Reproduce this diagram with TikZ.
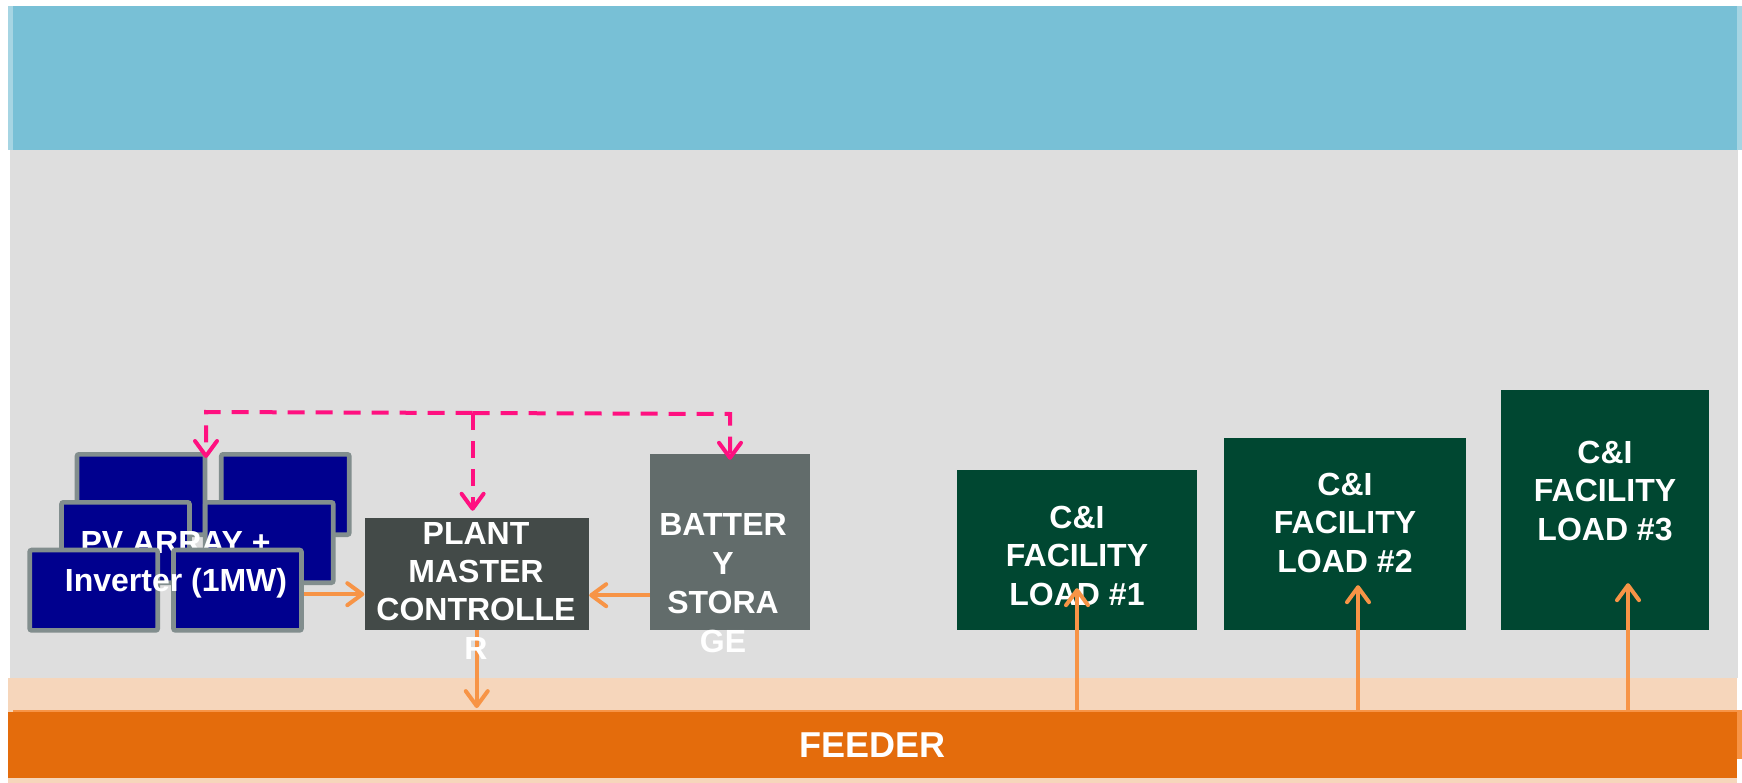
\documentclass[tikz,border=0pt]{standalone}
\usepackage{fontspec}
\setmainfont{Liberation Sans}
\usetikzlibrary{arrows.meta}
\definecolor{bandblue}{RGB}{120,192,214}
\definecolor{bandlight}{RGB}{166,213,227}
\definecolor{bggray}{RGB}{222,222,222}
\definecolor{peach}{RGB}{246,214,187}
\definecolor{flowor}{RGB}{247,148,70}
\definecolor{feedor}{RGB}{228,108,12}
\definecolor{pvnavy}{RGB}{0,0,142}
\definecolor{pvrim}{RGB}{130,142,142}
\definecolor{ctrlgray}{RGB}{67,74,72}
\definecolor{batgray}{RGB}{98,108,107}
\definecolor{loadgreen}{RGB}{0,71,49}
\definecolor{commpink}{RGB}{255,16,128}
\tikzset{
  panel/.style={draw=pvrim, line width=4.7pt, fill=pvnavy, rounded corners=2pt,
    minimum width=128pt, minimum height=80.3pt, inner sep=0},
  load/.style={fill=loadgreen, inner sep=0},
  lbl/.style={text=white, font=\fontsize{32}{38.3}\selectfont\bfseries, align=center, inner sep=0}
}
\begin{document}
\begin{tikzpicture}[x=1pt, y=-1pt, >={Straight Barb[length=15pt,width=22pt,round]},
  flow/.style={draw=flowor, line width=4pt},
  comm/.style={draw=commpink, line width=4pt, dash pattern=on 17pt off 11pt}]
\useasboundingbox (0,0) rectangle (1742,783);
\fill[white] (0,0) rectangle (1742,783);
\fill[bandlight] (8,6) rectangle (1742,150);
\fill[bandblue] (13,6) rectangle (1737,150);
\fill[bggray] (10,150) rectangle (1738,678);
\fill[peach] (8,678) rectangle (1737,783);
\fill[flowor] (13,710) rectangle (1742,759);
\node[fill=feedor, minimum width=1729pt, minimum height=65.4pt, inner sep=0, text=white,
  font=\fontsize{36}{40}\selectfont\bfseries] (feeder) at (872.5,745) {FEEDER};

\node[panel] (pv1) at (141,494.5) {};
\node[panel] (pv2) at (285.3,494.5) {};
\node[panel] (pv3) at (125.5,542.5) {};
\node[panel] (pv4) at (269.3,542.5) {};
\node[lbl, anchor=base] (pvtop) at (175.5,553.6) {PV ARRAY +};
\node[panel] (pv5) at (93.7,590.2) {};
\node[panel] (pv6) at (237.5,590.2) {};
\node[lbl, anchor=base] (pvbot) at (176,591) {Inverter (1MW)};

\node[fill=ctrlgray, minimum width=224.5pt, minimum height=112pt, inner sep=0] (ctrl) at (476.75,574) {};
\node[fill=batgray, minimum width=160pt, minimum height=176pt, inner sep=0] (bat) at (730,542) {};
\node[load, minimum width=240pt, minimum height=160pt] (load1) at (1077,550) {};
\node[load, minimum width=242pt, minimum height=192pt] (load2) at (1345,534) {};
\node[load, minimum width=208pt, minimum height=240pt] (load3) at (1605,510) {};

\coordinate (cL) at (206,412);
\coordinate (cM) at (472.6,413);
\coordinate (cR) at (730,414);
\draw[comm,->,shorten >=-6pt] (cM) -- (cL) -- (cL |- pv1.north);
\draw[comm,->,shorten >=7pt] (cM) -- (cM |- ctrl.north);
\draw[comm,->,shorten >=-6pt] (cM) -- (cR) -- (cR |- bat.north);

\coordinate (pvout) at ([yshift=-4pt]pv6.east);
\coordinate (batout) at ([yshift=35pt]bat.south west);
\draw[flow,->] (pvout) -- (pvout -| ctrl.west);
\draw[flow,->] (batout) -- (batout -| ctrl.east);
\draw[flow,->,shorten >=4pt] (ctrl.south) -- (ctrl.south |- feeder.north);

\node[lbl, anchor=north] (ctrltxt) at (476,522) {PLANT\\MASTER\\CONTROLLE\\R};
\node[lbl, anchor=north, font=\fontsize{32}{39}\selectfont\bfseries] (battxt) at (723,513) {BATTER\\Y\\STORA\\GE};
\node[lbl, anchor=north] (load1txt) at (1077,506) {C\&I\\FACILITY\\LOAD \#1};
\node[lbl, anchor=north] (load2txt) at (1345,473) {C\&I\\FACILITY\\LOAD \#2};
\node[lbl, anchor=north] (load3txt) at (1605,441) {C\&I\\FACILITY\\LOAD \#3};

\coordinate (l1in) at ([yshift=42pt]load1.south);
\coordinate (l2in) at ([xshift=13pt,yshift=45pt]load2.south);
\coordinate (l3in) at ([xshift=23pt,yshift=47pt]load3.south);
\draw[flow,->] (l1in |- feeder.north) -- (l1in);
\draw[flow,->] (l2in |- feeder.north) -- (l2in);
\draw[flow,->] (l3in |- feeder.north) -- (l3in);
\end{tikzpicture}
\end{document}
